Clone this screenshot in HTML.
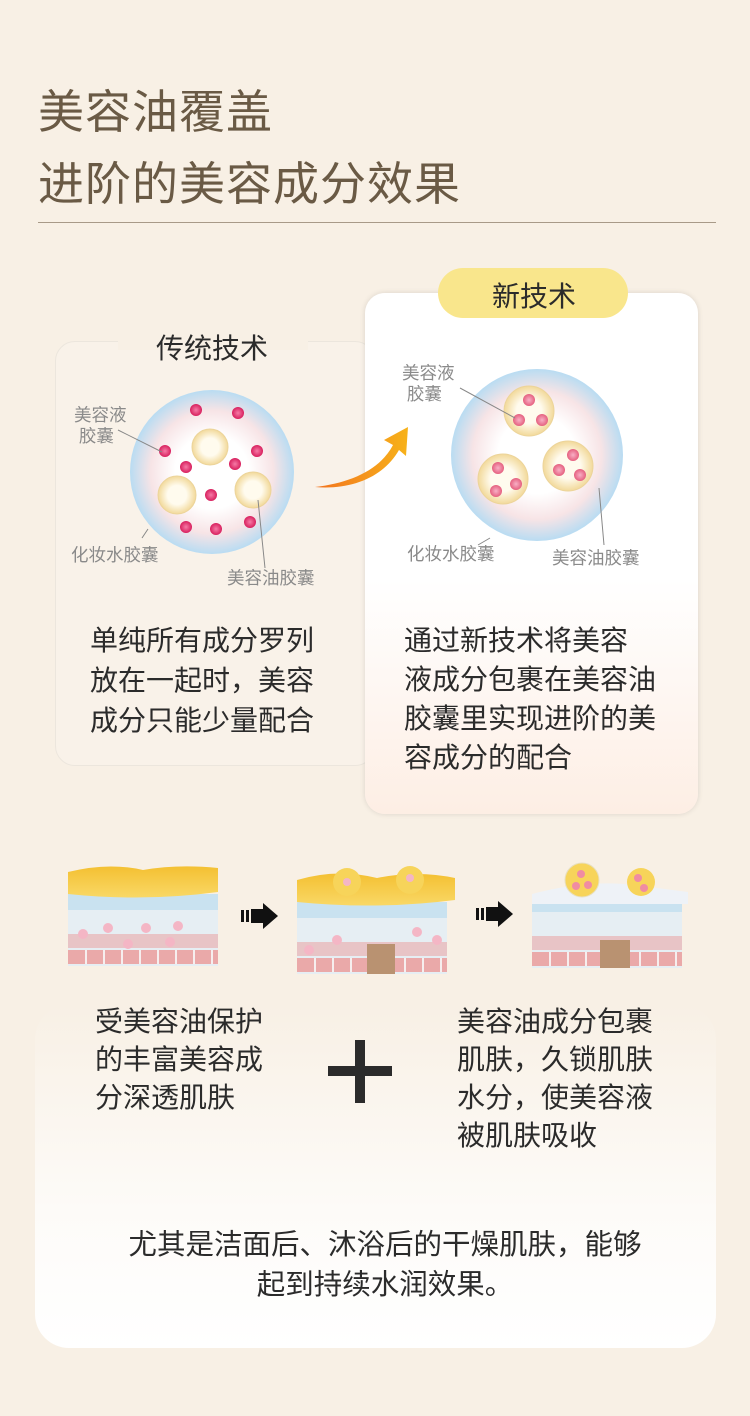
<!DOCTYPE html>
<html><head><meta charset="utf-8"><style>
*{margin:0;padding:0;box-sizing:border-box}
body{width:750px;height:1416px;background:#f8f0e5;position:relative;overflow:hidden;font-family:"Liberation Sans","Noto Sans CJK SC",sans-serif;color:#2b2b2b}
.a{position:absolute;white-space:nowrap}
.t{font-size:46px;color:#6a5a45;letter-spacing:1px}
.b{font-size:28px;line-height:39px}
.l{font-size:17.5px;color:#8a8a8a;line-height:21px}
</style></head><body>
<div class="a" style="left:35px;top:1005px;width:681px;height:343px;border-radius:34px;background:linear-gradient(#f8f0e5,#fdfbf8 60%,#fff)"></div>
<div class="a t" style="left:38px;top:76px">美容油覆盖</div>
<div class="a t" style="left:38px;top:148px">进阶的美容成分效果</div>
<div class="a" style="left:38px;top:222px;width:678px;height:1px;background:#a89a88"></div>

<div class="a" style="left:55px;top:341px;width:320px;height:425px;border:1.5px solid #ece6dd;border-radius:20px;background:#f9f2e9"></div>
<div class="a" style="left:118px;top:330px;width:190px;height:20px;background:#f8f0e5"></div>
<div class="a" style="left:156px;top:327px;font-size:28px">传统技术</div>

<div class="a" style="left:365px;top:293px;width:333px;height:521px;border-radius:20px;background:linear-gradient(#fff,#fff 55%,#fdeee4);box-shadow:0 0 6px rgba(0,0,0,.12)"></div>
<div class="a" style="left:438px;top:268px;width:190px;height:50px;border-radius:25px;background:#f9e68c"></div>
<div class="a" style="left:492px;top:275px;font-size:28px">新技术</div>

<svg class="a" style="left:0;top:0" width="750" height="1416">
<defs>
<radialGradient id="g"><stop offset="0.45" stop-color="#fff"/><stop offset="0.75" stop-color="#f7e4e6"/><stop offset="1" stop-color="#b9dcf2"/></radialGradient>
<radialGradient id="y"><stop offset="0.5" stop-color="#fffbee"/><stop offset="1" stop-color="#f2d99a"/></radialGradient>
<radialGradient id="p"><stop offset="0" stop-color="#f67aa6"/><stop offset="1" stop-color="#d8205e"/></radialGradient>
<radialGradient id="q"><stop offset="0" stop-color="#f8b0c6"/><stop offset="1" stop-color="#e5607f"/></radialGradient>
<linearGradient id="o" x1="0" x2="1"><stop offset="0" stop-color="#f2731e"/><stop offset="1" stop-color="#f7b21a"/></linearGradient>
<linearGradient id="oil" x1="0" x2="0" y1="0" y2="1"><stop offset="0" stop-color="#f4c032"/><stop offset="1" stop-color="#f9d866"/></linearGradient>
<g id="skin">
<rect x="0" y="32" width="150" height="72" fill="#e6eef3"/>
<rect x="0" y="32" width="150" height="16" fill="#c9e2f0"/>
<g fill="#eaa9a9"><rect x="0" y="72" width="150" height="14" opacity=".6"/><rect x="0" y="88" width="150" height="14"/></g>
<g stroke="#f6eeee" stroke-width="2"><path d="M18 88v14M36 88v14M54 88v14M72 88v14M90 88v14M108 88v14M126 88v14M144 88v14"/></g>
</g>
</defs>
<circle cx="212" cy="472" r="82" fill="url(#g)"/>
<g fill="url(#y)" stroke="#ecd49a"><circle cx="210" cy="447" r="18"/><circle cx="177" cy="495" r="19"/><circle cx="253" cy="490" r="18"/></g>
<g fill="url(#p)"><circle cx="196" cy="410" r="6"/><circle cx="238" cy="413" r="6"/><circle cx="165" cy="451" r="6"/><circle cx="257" cy="451" r="6"/><circle cx="186" cy="467" r="6"/><circle cx="235" cy="464" r="6"/><circle cx="211" cy="495" r="6"/><circle cx="186" cy="527" r="6"/><circle cx="216" cy="529" r="6"/><circle cx="250" cy="522" r="6"/></g>
<g stroke="#888" stroke-width="1" fill="none"><path d="M118 430L162 452M148 529L142 538M258 500L265 568"/></g>
<path d="M315 487C350 483 380 470 393 445L384 440L408 427L406 456L399 450C383 478 350 490 315 487Z" fill="url(#o)"/>
<circle cx="537" cy="455" r="86" fill="url(#g)"/>
<g fill="url(#y)" stroke="#ecd49a"><circle cx="529" cy="411" r="25"/><circle cx="503" cy="479" r="25"/><circle cx="568" cy="466" r="25"/></g>
<g fill="url(#q)"><circle cx="529" cy="400" r="6"/><circle cx="519" cy="420" r="6"/><circle cx="542" cy="420" r="6"/><circle cx="498" cy="468" r="6"/><circle cx="516" cy="484" r="6"/><circle cx="496" cy="491" r="6"/><circle cx="573" cy="455" r="6"/><circle cx="559" cy="470" r="6"/><circle cx="580" cy="475" r="6"/></g>
<g stroke="#888" stroke-width="1" fill="none"><path d="M460 388L515 418M490 538L478 545M599 488L604 545"/></g>

<g transform="translate(68,862)"><use href="#skin"/><path d="M0 10Q40 0 75 8Q110 2 150 6V30Q75 40 0 32Z" fill="url(#oil)"/>
<g fill="#f4b6c5"><circle cx="15" cy="72" r="5"/><circle cx="40" cy="66" r="5"/><circle cx="78" cy="66" r="5"/><circle cx="110" cy="64" r="5"/><circle cx="60" cy="82" r="5"/><circle cx="102" cy="80" r="5"/></g></g>
<g transform="translate(297,870)"><use href="#skin"/><path d="M0 10Q40 -2 80 8Q120 0 158 8V30Q80 40 0 32Z" fill="url(#oil)"/>
<rect x="70" y="74" width="28" height="30" fill="#b99271"/><circle cx="50" cy="12" r="14" fill="#f7d45a"/><circle cx="113" cy="10" r="14" fill="#f7d45a"/>
<g fill="#f4b6c5"><circle cx="50" cy="12" r="4"/><circle cx="113" cy="8" r="4"/><circle cx="40" cy="70" r="5"/><circle cx="120" cy="62" r="5"/><circle cx="12" cy="80" r="5"/><circle cx="140" cy="70" r="5"/></g></g>
<g transform="translate(532,864)"><use href="#skin"/><path d="M0 30Q60 14 110 22L156 28V40H0Z" fill="#eef2f7"/>
<rect x="68" y="76" width="30" height="28" fill="#b99271"/><circle cx="50" cy="16" r="17" fill="#f7d45a" stroke="#e8e0c0"/><circle cx="109" cy="18" r="14" fill="#f7d45a"/>
<g fill="#f08ca2"><circle cx="49" cy="10" r="4"/><circle cx="44" cy="22" r="4"/><circle cx="56" cy="21" r="4"/><circle cx="106" cy="14" r="4"/><circle cx="112" cy="24" r="4"/></g></g>
<g fill="#111"><rect x="241" y="910" width="3" height="12"/><rect x="246" y="910" width="3" height="12"/><rect x="251" y="909" width="13" height="14"/><path d="M263 903L278 916L263 929Z"/>
<rect x="476" y="908" width="3" height="12"/><rect x="481" y="908" width="3" height="12"/><rect x="486" y="907" width="13" height="14"/><path d="M498 901L513 914L498 927Z"/></g>
<rect x="328" y="1066" width="64" height="10" fill="#2b2b2b"/><rect x="355" y="1040" width="10" height="63" fill="#2b2b2b"/>
</svg>

<div class="a l" style="left:74px;top:405px">美容液<br>&nbsp;胶囊</div>
<div class="a l" style="left:71px;top:545px">化妆水胶囊</div>
<div class="a l" style="left:227px;top:568px">美容油胶囊</div>
<div class="a l" style="left:402px;top:363px">美容液<br>&nbsp;胶囊</div>
<div class="a l" style="left:407px;top:544px">化妆水胶囊</div>
<div class="a l" style="left:552px;top:548px">美容油胶囊</div>

<div class="a b" style="left:90px;top:621px;line-height:40px">单纯所有成分罗列<br>放在一起时，美容<br>成分只能少量配合</div>
<div class="a b" style="left:404px;top:621px">通过新技术将美容<br>液成分包裹在美容油<br>胶囊里实现进阶的美<br>容成分的配合</div>
<div class="a b" style="left:95px;top:1003px;line-height:38px">受美容油保护<br>的丰富美容成<br>分深透肌肤</div>
<div class="a b" style="left:457px;top:1003px;line-height:38px">美容油成分包裹<br>肌肤，久锁肌肤<br>水分，使美容液<br>被肌肤吸收</div>
<div class="a" style="left:0;top:1225px;width:770px;text-align:center;font-size:28.5px;line-height:40px">尤其是洁面后、沐浴后的干燥肌肤，能够<br>起到持续水润效果。</div>
</body></html>
